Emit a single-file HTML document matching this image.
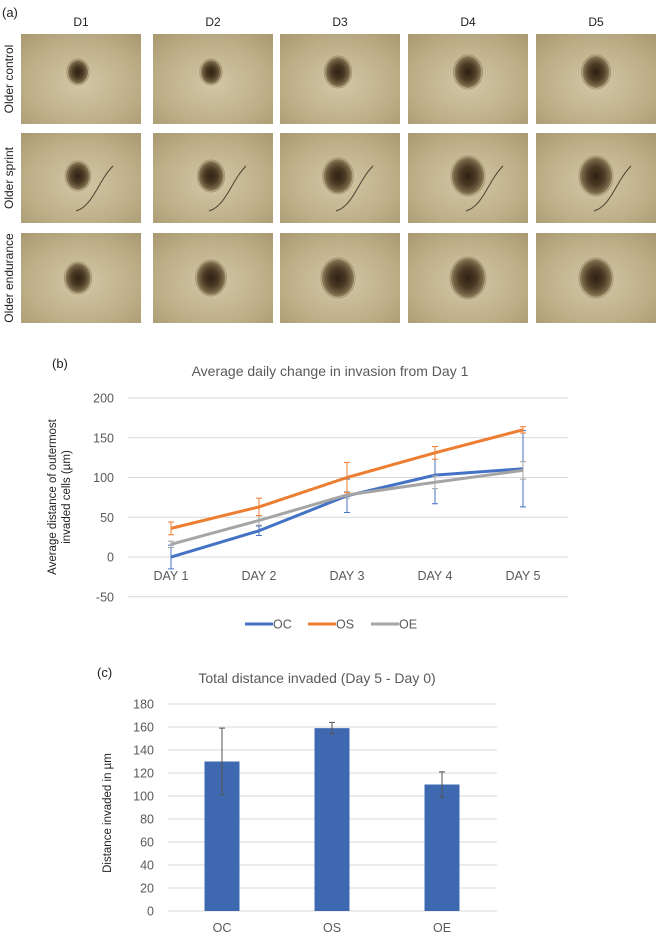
<!DOCTYPE html>
<html><head><meta charset="utf-8">
<style>
body{margin:0;background:#fff;}
svg{display:block;font-family:"Liberation Sans",sans-serif;}
</style></head>
<body>
<svg id="fig" width="656" height="945" viewBox="0 0 656 945">
<defs>
<radialGradient id="bg" cx="50%" cy="55%" r="75%">
<stop offset="0" stop-color="#d2c7a6"/><stop offset="0.6" stop-color="#bdaf88"/><stop offset="1" stop-color="#a89870"/>
</radialGradient>
<radialGradient id="sph" cx="50%" cy="50%" r="50%">
<stop offset="0" stop-color="#2e2114"/><stop offset="0.5" stop-color="#4a3a24"/><stop offset="0.8" stop-color="#6e5e40"/><stop offset="1" stop-color="#938462"/>
</radialGradient>
</defs>
<g id="panelA">
<text x="2" y="17" font-size="13" fill="#222">(a)</text>
</g>
<g id="panelB"></g>
<g id="panelC"></g>
</svg>
<script>
const NS='http://www.w3.org/2000/svg';
function mk(tag,attrs,parent,txt){const e=document.createElementNS(NS,tag);for(const k in attrs)e.setAttribute(k,attrs[k]);if(txt!==undefined)e.textContent=txt;parent.appendChild(e);return e;}

// Panel A
const colLabels=['D1','D2','D3','D4','D5'];
const rowLabels=['Older control','Older sprint','Older endurance'];
const colX=[21,153,280,408,536];
const rowY=[34,133,233];
const blobR=[[12,12,15,16,16],[14,15,17,19,19],[15,17,19,20,19]];
const A=document.getElementById('panelA');
colLabels.forEach((c,i)=>{
 const t=mk('text',{x:colX[i]+60,y:26,'font-size':12,'text-anchor':'middle',fill:'#222'},A,c);
 
 
});
rowLabels.forEach((r,j)=>{
 const t=mk('text',{transform:`translate(13,${rowY[j]+45}) rotate(-90)`,'font-size':12,'text-anchor':'middle',fill:'#222'},A,r);
 
 
 colX.forEach((x,i)=>{
  const g=mk('g',{},A);
  
  
  mk('rect',{x:x,y:rowY[j],width:120,height:90,fill:'url(#bg)'},g);
  const cx=x+(i==0?57:i>=3?60:58), cy=rowY[j]+(j==2?45:j==1?43:38);
  const r=blobR[j][i];
  mk('ellipse',{cx:cx,cy:cy,rx:r*0.85+1,ry:r+1,fill:'none',stroke:'#8a7a58','stroke-width':1,opacity:0.6},g);
  mk('ellipse',{cx:cx,cy:cy,rx:r*0.85,ry:r,fill:'url(#sph)'},g);
  if(j==1){mk('path',{d:`M${cx+35} ${cy-10} C${cx+20} ${cy+5},${cx+15} ${cy+30},${cx-2} ${cy+35}`,stroke:'#4a4030','stroke-width':1,fill:'none'},g);}
 });
});

// Panel B data
const days=['DAY 1','DAY 2','DAY 3','DAY 4','DAY 5'];
const ocVals=[0,33,77,103,111];
const osVals=[36,63,100,131,160];
const oeVals=[16,46,78,94,109];
const ocErr=[15,6,21,36,48];
const osErr=[8,11,19,8,4];
const oeErr=[4,6,4,8,11];
const bTicks=[-50,0,50,100,150,200];
// Panel C data
const cCats=['OC','OS','OE'];
const cVals=[130,159,110];
const cErr=[29,5,11];
const cTicks=[0,20,40,60,80,100,120,140,160,180];

const B=document.getElementById('panelB');
const by=v=>557-(v)*(557-398)/200;
const bx=i=>171+i*88;
let t=mk('text',{x:52,y:368,'font-size':13,fill:'#222'},B,'(b)');

t=mk('text',{x:330,y:376,'font-size':14,'text-anchor':'middle',fill:'#595959'},B,'Average daily change in invasion from Day 1');

bTicks.forEach(v=>{
 const l=mk('line',{x1:128,x2:568,y1:by(v),y2:by(v),stroke:'#d9d9d9','stroke-width':1},B);
 
 const tt=mk('text',{x:114,y:by(v)+4.5,'font-size':12.5,'text-anchor':'end',fill:'#595959'},B,String(v));
 
});
days.forEach((d,i)=>{
 const tt=mk('text',{x:bx(i),y:580,'font-size':12.5,'text-anchor':'middle',fill:'#595959'},B,d);
 
});
t=mk('text',{transform:'translate(56,497) rotate(-90)','font-size':11.5,'text-anchor':'middle',fill:'#222'},B,'Average distance of outermost');

t=mk('text',{transform:'translate(70,497) rotate(-90)','font-size':11.5,'text-anchor':'middle',fill:'#222'},B,'invaded cells (µm)');

const series=[['OC',ocVals,ocErr,'#4472c4'],['OE',oeVals,oeErr,'#a5a5a5'],['OS',osVals,osErr,'#ed7d31']];
series.forEach(([n,vals,err,col])=>{
 const g=mk('g',{},B);
 
 vals.forEach((v,i)=>{
  const e=mk('path',{d:`M${bx(i)} ${by(v-err[i])}V${by(v+err[i])}M${bx(i)-3} ${by(v-err[i])}h6M${bx(i)-3} ${by(v+err[i])}h6`,stroke:col,'stroke-width':1,fill:'none'},g);
  
 });
 const p=mk('polyline',{points:vals.map((v,i)=>bx(i)+','+by(v)).join(' '),stroke:col,'stroke-width':3,fill:'none','stroke-linejoin':'round'},g);
 
});
[['OC','#4472c4',245],['OS','#ed7d31',308],['OE','#a5a5a5',371]].forEach(([n,c,x])=>{
 const g=mk('g',{},B);
 
 mk('line',{x1:x,x2:x+28,y1:624,y2:624,stroke:c,'stroke-width':3},g);
 mk('text',{x:x+28,y:628.5,'font-size':12.5,fill:'#595959'},g,n);
});

// Panel C
const C=document.getElementById('panelC');
const cy=v=>911-v*(911-704)/180;
const cx=i=>222+i*110;
t=mk('text',{x:97,y:677,'font-size':13,fill:'#222'},C,'(c)');

t=mk('text',{x:317,y:683,'font-size':14,'text-anchor':'middle',fill:'#595959'},C,'Total distance invaded (Day 5 - Day 0)');

cTicks.forEach(v=>{
 const l=mk('line',{x1:168,x2:497,y1:cy(v),y2:cy(v),stroke:'#d9d9d9','stroke-width':1},C);
 
 const tt=mk('text',{x:154,y:cy(v)+4.5,'font-size':12.5,'text-anchor':'end',fill:'#595959'},C,String(v));
 
});
t=mk('text',{transform:'translate(111,813) rotate(-90)','font-size':11.5,'text-anchor':'middle',fill:'#222'},C,'Distance invaded in µm');

cCats.forEach((c,i)=>{
 const r=mk('rect',{x:cx(i)-17.5,y:cy(cVals[i]),width:35,height:cy(0)-cy(cVals[i]),fill:'#3e68b0'},C);
 
 const e=mk('path',{d:`M${cx(i)} ${cy(cVals[i]-cErr[i])}V${cy(cVals[i]+cErr[i])}M${cx(i)-3} ${cy(cVals[i]-cErr[i])}h6M${cx(i)-3} ${cy(cVals[i]+cErr[i])}h6`,stroke:'#555','stroke-width':1,fill:'none'},C);
 
 const tt=mk('text',{x:cx(i),y:932,'font-size':12.5,'text-anchor':'middle',fill:'#595959'},C,c);
 
});
</script>
</body></html>
